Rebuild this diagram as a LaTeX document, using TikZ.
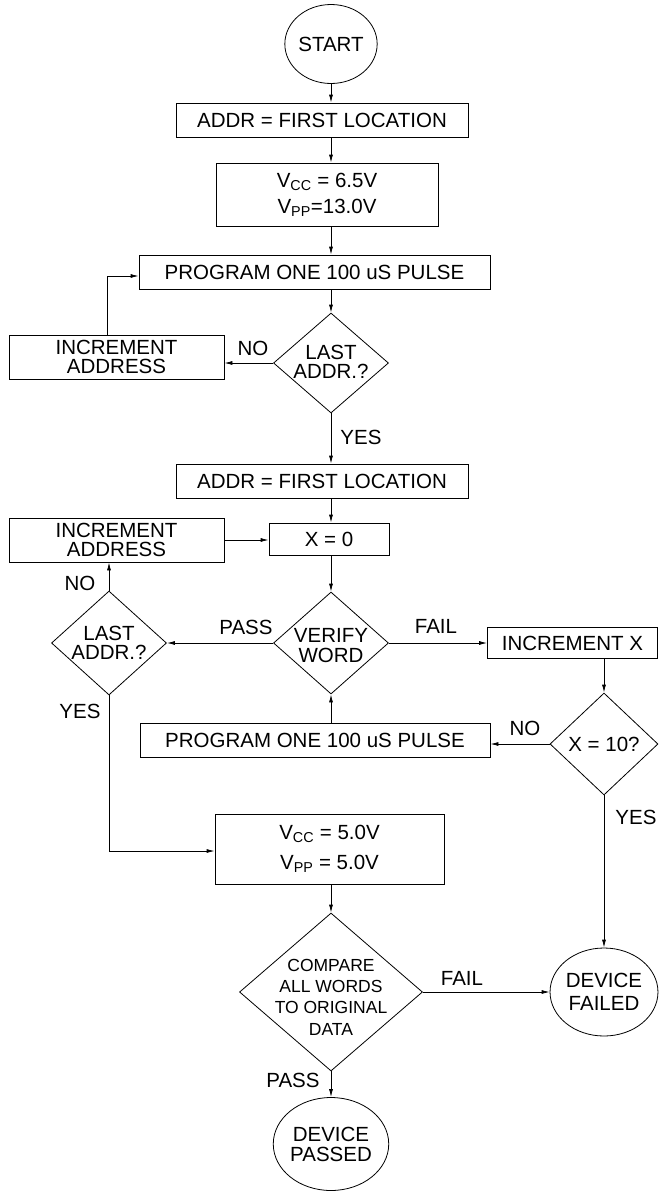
\documentclass[tikz,border=0pt]{standalone}
\usepackage{fontspec}
\setmainfont{Liberation Sans}
\usetikzlibrary{shapes.geometric,arrows.meta}
\begin{document}
\begin{tikzpicture}[x=1pt,y=-1pt,
  line width=0.8pt,
  every node/.style={inner sep=0pt, align=center, font=\fontsize{20.5}{19}\selectfont},
  box/.style={draw, rectangle},
  dia/.style={draw, diamond},
  term/.style={draw, ellipse},
  arr/.style={-{Latex[length=8pt,width=4pt]}}
]
\useasboundingbox (0,0) rectangle (659,1191);

% nodes
\node[term, minimum width=83pt, minimum height=79pt] (start) at (331,44) {START};
\node[box, minimum width=292pt, minimum height=34pt] (addr1) at (322,120) {ADDR = FIRST LOCATION};
\node[box, minimum width=222pt, minimum height=63pt, font=\fontsize{20.5}{26}\selectfont] (vcc1) at (327,194.5) {V\textsubscript{CC} = 6.5V\\V\textsubscript{PP}=13.0V};
\node[box, minimum width=351pt, minimum height=34pt] (prog1) at (314.5,272) {PROGRAM ONE 100 uS PULSE};
\node[dia, minimum width=115pt, minimum height=100pt] (last1) at (331,363) {};
\node[font=\fontsize{20.5}{19}\selectfont] (last1t) at ([yshift=1pt]last1) {LAST\\ADDR.?};
\node[box, minimum width=215pt, minimum height=44pt, font=\fontsize{20.5}{18.5}\selectfont] (inc1) at (116.5,357) {INCREMENT\\ADDRESS};
\node (no1) at (253,348) {NO};
\node (yes1) at (361,437) {YES};

\node[box, minimum width=292pt, minimum height=34pt] (addr2) at (322,481) {ADDR = FIRST LOCATION};
\node[box, minimum width=120pt, minimum height=32pt] (x0) at (329,539) {X = 0};
\node[box, minimum width=215pt, minimum height=44pt, font=\fontsize{20.5}{18.5}\selectfont] (inc2) at (116.5,540) {INCREMENT\\ADDRESS};

\node[dia, minimum width=115pt, minimum height=102pt] (verify) at (331,643) {};
\node[font=\fontsize{20.5}{20}\selectfont] (verifyt) at ([yshift=-3pt]verify) {VERIFY\\WORD};
\node[dia, minimum width=115pt, minimum height=104pt] (last2) at (109,643) {};
\node[font=\fontsize{20.5}{19}\selectfont] (last2t) at (last2) {LAST\\ADDR.?};
\node[box, minimum width=170pt, minimum height=31pt] (incx) at (572.5,643) {INCREMENT X};
\node (pass1) at (246,627) {PASS};
\node (fail1) at (436,626) {FAIL};
\node (no2) at (80,583) {NO};
\node (yes2) at (80,711) {YES};

\node[dia, minimum width=108pt, minimum height=102pt] (x10) at (604,744) {};
\node (x10t) at (x10) {X = 10?};
\node[box, minimum width=350pt, minimum height=34pt] (prog2) at (315,740) {PROGRAM ONE 100 uS PULSE};
\node (no3) at (525,728) {NO};
\node (yes3) at (636,817) {YES};

\node[box, minimum width=229pt, minimum height=70pt, font=\fontsize{20.5}{30}\selectfont] (vcc2) at (329.5,849) {V\textsubscript{CC} = 5.0V\\V\textsubscript{PP} = 5.0V};

\node[dia, minimum width=183pt, minimum height=158pt] (compare) at (331,992) {};
\node[font=\fontsize{17.5}{21.3}\selectfont] (comparet) at ([yshift=-5pt]compare) {COMPARE\\ALL WORDS\\TO ORIGINAL\\DATA};
\node[term, minimum width=91pt, minimum height=88pt, font=\fontsize{20.5}{23}\selectfont] (failed) at (604,992) {DEVICE\\FAILED};
\node (fail2) at (462,978) {FAIL};
\node (pass2) at (293,1080) {PASS};
\node[term, minimum width=108pt, minimum height=93pt, font=\fontsize{20.5}{20}\selectfont] (passed) at (331,1144) {DEVICE\\PASSED};

% connectors
\draw[arr] (start.south) -- (start.south |- addr1.north);
\draw[arr] (start.south |- addr1.south) -- (start.south |- vcc1.north);
\draw[arr] (start.south |- vcc1.south) -- (start.south |- prog1.north);
\draw[arr] (last1.north |- prog1.south) -- (last1.north);
\draw[arr] (last1.west) -- (last1.west -| inc1.east);
\draw[arr] ([xshift=-9.5pt]inc1.north) |- ([yshift=-4pt]prog1.west);
\draw[arr] (last1.south) -- (last1.south |- addr2.north);
\draw[arr] (last1.south |- addr2.south) -- (last1.south |- x0.north);
\draw[arr] (inc2.east) -- (inc2.east -| x0.west);
\draw[arr] (verify.north |- x0.south) -- (verify.north);
\draw[arr] (verify.west) -- (last2.east);
\draw[arr] (verify.east) -- (verify.east -| incx.west);
\draw[arr] (last2.north) -- (last2.north |- inc2.south);
\draw[arr] (x10.north |- incx.south) -- (x10.north);
\draw[arr] (x10.west) -- (x10.west -| prog2.east);
\draw[arr] (verify.south |- prog2.north) -- (verify.south);
\draw[arr] (last2.south) |- ([yshift=-2pt]vcc2.west);
\draw[arr] (x10.south) -- (failed.north);
\draw[arr] (compare.north |- vcc2.south) -- (compare.north);
\draw[arr] (compare.east) -- (failed.west);
\draw[arr] (compare.south) -- (passed.north);
\end{tikzpicture}
\end{document}
